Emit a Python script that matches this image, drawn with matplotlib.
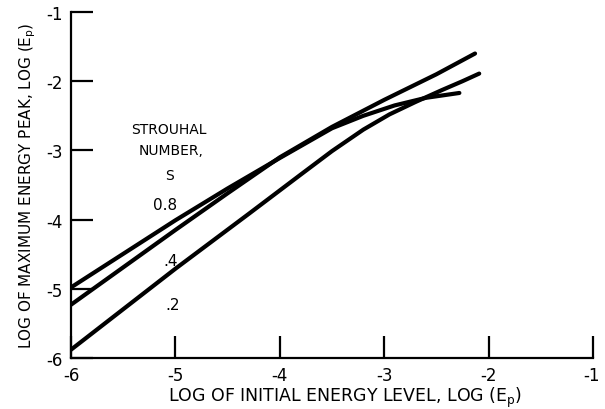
import matplotlib
matplotlib.use("Agg")
import matplotlib.pyplot as plt
import matplotlib.transforms as mtransforms

# values: log initial energy -> log max energy peak
x_s08 = [-6.0, -5.0, -4.5, -4.0, -3.5, -3.2, -2.9, -2.6, -2.28]
y_s08 = [-4.98, -4.01, -3.55, -3.11, -2.68, -2.50, -2.35, -2.24, -2.17]

x_s04 = [-6.0, -5.0, -4.5, -4.0, -3.5, -3.0, -2.5, -2.13]
y_s04 = [-5.23, -4.15, -3.62, -3.10, -2.66, -2.27, -1.90, -1.60]

x_s02 = [-6.0, -5.0, -4.3, -3.8, -3.5, -3.2, -2.95, -2.7, -2.45, -2.25, -2.09]
y_s02 = [-5.88, -4.71, -3.92, -3.35, -3.01, -2.70, -2.48, -2.30, -2.13, -2.00, -1.89]

ticks = [-6, -5, -4, -3, -2, -1]
tick_labels = ["-6", "-5", "-4", "-3", "-2", "-1"]

fig = plt.figure(figsize=(6.05, 4.10), dpi=100)
ax = fig.add_axes([71 / 605, 1 - 359 / 410, 522 / 605, 346 / 410])

for xs, ys in [(x_s08, y_s08), (x_s04, y_s04), (x_s02, y_s02)]:
    ax.plot(xs, ys, color="black", lw=3, solid_capstyle="round",
            solid_joinstyle="round")

ax.set_xlim(-6, -1)
ax.set_ylim(-6, -1)
ax.set_xticks(ticks)
ax.set_xticklabels(tick_labels)
ax.set_yticks(ticks)
ax.set_yticklabels(tick_labels)
ax.spines["top"].set_visible(False)
ax.spines["right"].set_visible(False)
for side in ["left", "bottom"]:
    ax.spines[side].set_linewidth(1.6)
ax.tick_params(direction="in", length=16, width=1.6, labelsize=12, pad=6)
last = ax.get_xticklabels()[-1]
last.set_horizontalalignment("right")
last.set_transform(last.get_transform() +
                   mtransforms.ScaledTranslation(7 / 100, 0, fig.dpi_scale_trans))

ax.set_xlabel("LOG OF INITIAL ENERGY LEVEL, LOG (E$_\\mathregular{p}$)",
              fontsize=12.5, va="center")
ax.xaxis.set_label_coords(0.525, -0.112)
ax.set_ylabel("LOG OF MAXIMUM ENERGY PEAK, LOG (E$_\\mathregular{p}$)",
              fontsize=11, labelpad=6)

ax.text(-5.06, -2.69, "STROUHAL", ha="center", va="center", fontsize=10)
ax.text(-5.04, -3.00, "NUMBER,", ha="center", va="center", fontsize=10)
ax.text(-5.06, -3.36, "S", ha="center", va="center", fontsize=10)
ax.text(-5.10, -3.78, "0.8", ha="center", va="center", fontsize=11)
ax.text(-5.05, -4.59, ".4", ha="center", va="center", fontsize=11)
ax.text(-5.03, -5.22, ".2", ha="center", va="center", fontsize=11)

fig.savefig("out.png", dpi=100)
